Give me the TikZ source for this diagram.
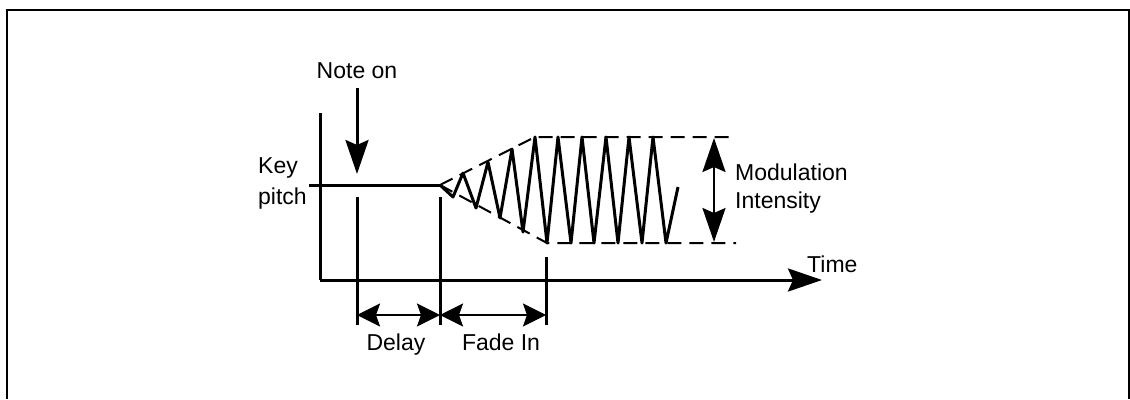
\documentclass[tikz,border=0pt]{standalone}
\usepackage{fontspec}
\setmainfont{Liberation Sans}
\usetikzlibrary{arrows.meta, positioning}

\begin{document}
\begin{tikzpicture}[
    x=1pt, y=-1pt,
    every node/.style={font=\fontsize{23}{27}\selectfont, inner sep=0pt},
    axis/.style={line width=3pt},
    bigarrow/.style={line width=3pt, -{Stealth[length=34pt, width=23pt, inset=5pt]}},
    spanarrow/.style={line width=2.5pt, {Stealth[length=23pt, width=23pt, inset=4pt]}-{Stealth[length=23pt, width=23pt, inset=4pt]}},
    rangearrow/.style={line width=2.5pt, {Stealth[length=34pt, width=23pt, inset=5pt]}-{Stealth[length=34pt, width=23pt, inset=5pt]}},
    envelope/.style={line width=2pt, dash pattern=on 14pt off 8pt},
    wave/.style={line width=3pt, line join=round}
]
    \useasboundingbox (0,0) rectangle (1130,399);

    % Frame (open at the bottom)
    \draw[line width=2pt] (7,399) -- (7,10) -- (1129,10) -- (1129,399);

    % Axes
    \coordinate (origin) at (320,280);
    \coordinate (pitchtop) at (320,113);
    \coordinate (timeend) at (822,280);
    \draw[axis] (pitchtop) -- (origin);
    \draw[bigarrow] (origin) -- (timeend);
    \node[anchor=base west] (time) at (807,272) {Time};

    % Key pitch level
    \coordinate (pitchleft) at (309,185);
    \coordinate (fadestart) at (440,185);
    \draw[axis] (pitchleft) -- (fadestart);
    \node[anchor=base west] (key) at (258,173) {Key};
    \node[anchor=base west] (pitch) at (258,204) {pitch};

    % Note on
    \node[anchor=base] (noteon) at (357,78) {Note on};
    \coordinate (noteontip) at (357,174);
    \draw[bigarrow] ([yshift=-10pt]noteon.south) -- (noteontip);

    % Time marks
    \coordinate (delaytop) at (357,197);
    \coordinate (delaybot) at (357,325);
    \coordinate (fadetop) at (440,197);
    \coordinate (fadebot) at (440,325);
    \coordinate (steadytop) at (546,257);
    \coordinate (steadybot) at (546,325);
    \draw[axis] (delaytop) -- (delaybot);
    \draw[axis] (fadetop) -- (fadebot);
    \draw[axis] (steadytop) -- (steadybot);

    % Delay and fade in spans
    \coordinate (spana) at (357,315);
    \coordinate (spanb) at (440,315);
    \coordinate (spanc) at (546,315);
    \draw[spanarrow] (spana) -- (spanb);
    \draw[spanarrow] (spanb) -- (spanc);
    \node[anchor=base] (delay) at (396,350) {Delay};
    \node[anchor=base] (fadein) at (501,350) {Fade In};

    % Envelope
    \coordinate (envtop) at (535,137);
    \coordinate (envbot) at (547,243);
    \coordinate (envtopend) at (736,137);
    \coordinate (envbotend) at (736,243);
    \draw[envelope] (fadestart) -- (envtop) -- (envtopend);
    \draw[envelope] (fadestart) -- (envbot) -- (envbotend);

    % Vibrato wave
    \draw[wave] (fadestart) -- (453,197) -- (463,173) -- (476,208) -- (488,162)
        -- (500,218) -- (512,149) -- (523,232) -- (535,137) -- (547,243)
        -- (558,137) -- (571,243) -- (582,137) -- (594,243) -- (606,137)
        -- (618,243) -- (629,137) -- (642,243) -- (653,137) -- (666,243)
        -- (678,187);

    % Modulation intensity
    \coordinate (rangetop) at (714,138);
    \coordinate (rangebot) at (714,242);
    \draw[rangearrow] (rangetop) -- (rangebot);
    \node[anchor=base west] (modulation) at (735,180) {Modulation};
    \node[anchor=base west] (intensity) at (735,208) {Intensity};

\end{tikzpicture}
\end{document}
